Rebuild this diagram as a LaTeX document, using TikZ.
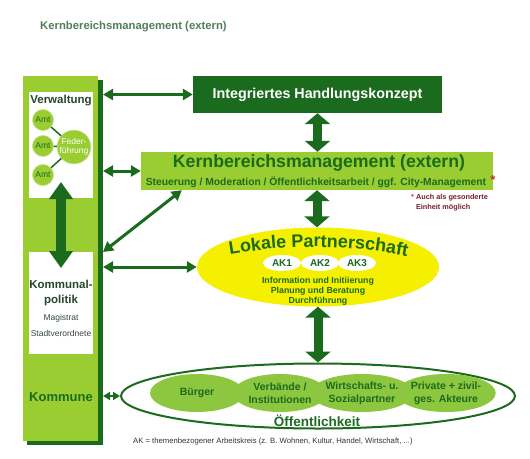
\documentclass[tikz,border=0pt]{standalone}
\usepackage{fontspec}
\setmainfont{Liberation Sans}
\usetikzlibrary{arrows.meta,shapes.geometric,decorations.text,calc}
\definecolor{dg}{HTML}{1B6B1F}
\definecolor{lime}{HTML}{9ACD32}
\definecolor{limetwo}{HTML}{8DC63F}
\definecolor{yel}{HTML}{F4F000}
\definecolor{ttl}{HTML}{4F7F5A}
\definecolor{dred}{HTML}{7B1F2E}
\definecolor{ast}{HTML}{C0392B}
\definecolor{txtdk}{HTML}{26472B}
\definecolor{txtgr}{HTML}{3A4A3A}
\newcommand\myfs[2]{\fontsize{#1}{#2}\selectfont}
\begin{document}
\begin{tikzpicture}[x=1pt,y=-1pt,
  box/.style={inner sep=0pt, outer sep=0pt, anchor=north west},
  conn/.style={draw=dg, line width=3pt, {Triangle[width=11pt,length=10pt]}-{Triangle[width=11pt,length=10pt]}},
  connsmall/.style={draw=dg, line width=2.5pt, {Triangle[width=8pt,length=7pt]}-{Triangle[width=8pt,length=7pt]}},
  fat/.style={draw=dg, line width=9pt, {Triangle[width=25pt,length=11pt]}-{Triangle[width=25pt,length=11pt]}},
  colfat/.style={draw=dg, line width=10pt, {Triangle[width=23pt,length=17pt]}-{Triangle[width=23pt,length=17pt]}},
  amt/.style={circle, fill=lime, draw=lime!60!white, line width=0.6pt, minimum size=21pt, inner sep=0pt, font=\myfs{8.5}{9}, text=dg},
  inner/.style={ellipse, fill=limetwo, minimum width=94pt, minimum height=38pt, inner sep=0pt, font=\bfseries\myfs{10.5}{13}, text=dg, align=center},
  ak/.style={ellipse, fill=white, minimum width=38pt, minimum height=16pt, inner sep=0pt, font=\bfseries\myfs{10}{10}, text=dg},
]
\useasboundingbox[fill=white] (0,0) rectangle (530,458);

% title
\node[anchor=west, inner sep=0pt, text=ttl, font=\bfseries\myfs{11.3}{12}] (title) at (40,27) {Kernbereichsmanagement (extern)};

% left column
\node[box, fill=dg, minimum width=76pt, minimum height=365pt] (colshadow) at (27,80) {};
\node[box, fill=lime, minimum width=75pt, minimum height=365pt] (col) at (23,76) {};
\node[box, fill=white, minimum width=64pt, minimum height=106pt] (vw) at (29,92) {};
\node[box, fill=white, minimum width=64pt, minimum height=102pt] (kp) at (29,252) {};

\node[inner sep=0pt, font=\bfseries\myfs{11.5}{12}, text=txtdk] (vwt) at (61,101) {Verwaltung};
\node[amt] (a1) at (43,120) {Amt};
\node[amt] (a2) at (43,146) {Amt};
\node[amt] (a3) at (43,175) {Amt};
\node[circle, fill=lime, draw=lime!60!white, line width=0.6pt, minimum size=32pt, inner sep=0pt, align=center, font=\myfs{8.5}{9.5}, text=white] (ff) at (74,147) {Feder-\\führung};
\draw[dg, line width=1.5pt] (a1) -- (ff);
\draw[dg, line width=1.5pt] (a2) -- (ff);
\draw[dg, line width=1.5pt] (a3) -- (ff);

\node[inner sep=0pt, align=center, font=\bfseries\myfs{11.5}{14.5}, text=txtdk] (kpt) at (61,293) {Kommunal-\\politik};
\node[inner sep=0pt, font=\myfs{8.5}{9}, text=txtgr] (mag) at (61,318) {Magistrat};
\node[inner sep=0pt, font=\myfs{8.5}{9}, text=txtgr] (svv) at (61,333) {Stadtverordnete};
\node[inner sep=0pt, font=\bfseries\myfs{13}{14}, text=dg] (kom) at (61,397) {Kommune};

\coordinate (ca) at (61,182);
\coordinate (cb) at (61,268);
\draw[colfat] (ca) -- (cb);

% Integriertes Handlungskonzept
\node[fill=dg, minimum width=249pt, minimum height=37pt, inner sep=0pt, text=white, font=\bfseries\myfs{14.3}{15}] (ihk) at (317.5,94.5) {Integriertes Handlungskonzept};

% Kernbereichsmanagement
\node[fill=lime, minimum width=352pt, minimum height=38pt, inner sep=0pt] (kbm) at (317,171) {};
\node[inner sep=0pt, text=dg, font=\bfseries\myfs{17.7}{18}] (kbmt) at (319,163) {Kernbereichsmanagement (extern)};
\node[inner sep=0pt, text=dg, font=\bfseries\myfs{10.3}{11}] (kbms) at (316,182.5) {Steuerung / Moderation / Öffentlichkeitsarbeit / ggf. City-Management};
\node[inner sep=0pt, text=ast, font=\bfseries\myfs{13}{13}] (astx) at (493,180) {*};
\node[anchor=north west, inner sep=0pt, align=left, text=dred, font=\bfseries\myfs{7.3}{10}] (note) at (411,194) {\textcolor{ast}{*} Auch als gesonderte\\\phantom{* }Einheit möglich};

% Lokale Partnerschaft
\node[ellipse, fill=yel, minimum width=242pt, minimum height=79pt, inner sep=0pt] (lp) at (318,267) {};
\path[decorate, decoration={text along path, text align=center, text={|\bfseries\myfs{18}{18}\color{dg}|Lokale Partnerschaft}}] (226,255) .. controls (290,244) and (346,244) .. (411,257);
\node[ak] (ak1) at (282,263) {AK1};
\node[ak] (ak2) at (320,263) {AK2};
\node[ak] (ak3) at (357,263) {AK3};
\node[inner sep=0pt, align=center, text=dg, font=\bfseries\myfs{8.8}{10}] (info) at (318,291) {Information und Initiierung\\Planung und Beratung\\Durchführung};

% Oeffentlichkeit
\node[ellipse, draw=dg, line width=2pt, fill=white, minimum width=394pt, minimum height=65pt, inner sep=0pt] (oef) at (318,396) {};
\node[inner] (bu) at (197,393) {Bürger};
\node[inner] (vb) at (280,393) {Verbände /\\Institutionen};
\node[inner] (ws) at (362,393) {Wirtschafts- u.\\Sozialpartner};
\node[inner] (pz) at (446,393) {Private + zivil-\\ges. Akteure};
\node[inner sep=0pt, text=dg, font=\bfseries\myfs{13.5}{14}] (oeft) at (317,421) {Öffentlichkeit};

\node[anchor=west, inner sep=0pt, text=black!80, font=\myfs{7.7}{8}] (foot) at (133,442) {AK = themenbezogener Arbeitskreis (z. B. Wohnen, Kultur, Handel, Wirtschaft, ...)};

% connectors
\draw[conn] (colshadow.east |- ihk.west) -- (ihk.west);
\draw[conn] (colshadow.east |- kbm.west) -- (kbm.west);
\coordinate (dA) at (colshadow.east |- 0,252);
\coordinate (dB) at ($(kbm.south west)+(41,0)$);
\draw[conn] (dA) -- (dB);
\draw[conn] (colshadow.east |- lp.west) -- (lp.west);
\draw[connsmall] (colshadow.east |- oef.west) -- (oef.west);

\draw[fat] (ihk.south) -- (ihk.south |- kbm.north);
\draw[fat] (kbm.south) -- (kbm.south |- lp.north);
\draw[fat] (lp.south) -- (lp.south |- oef.north);
\end{tikzpicture}
\end{document}
